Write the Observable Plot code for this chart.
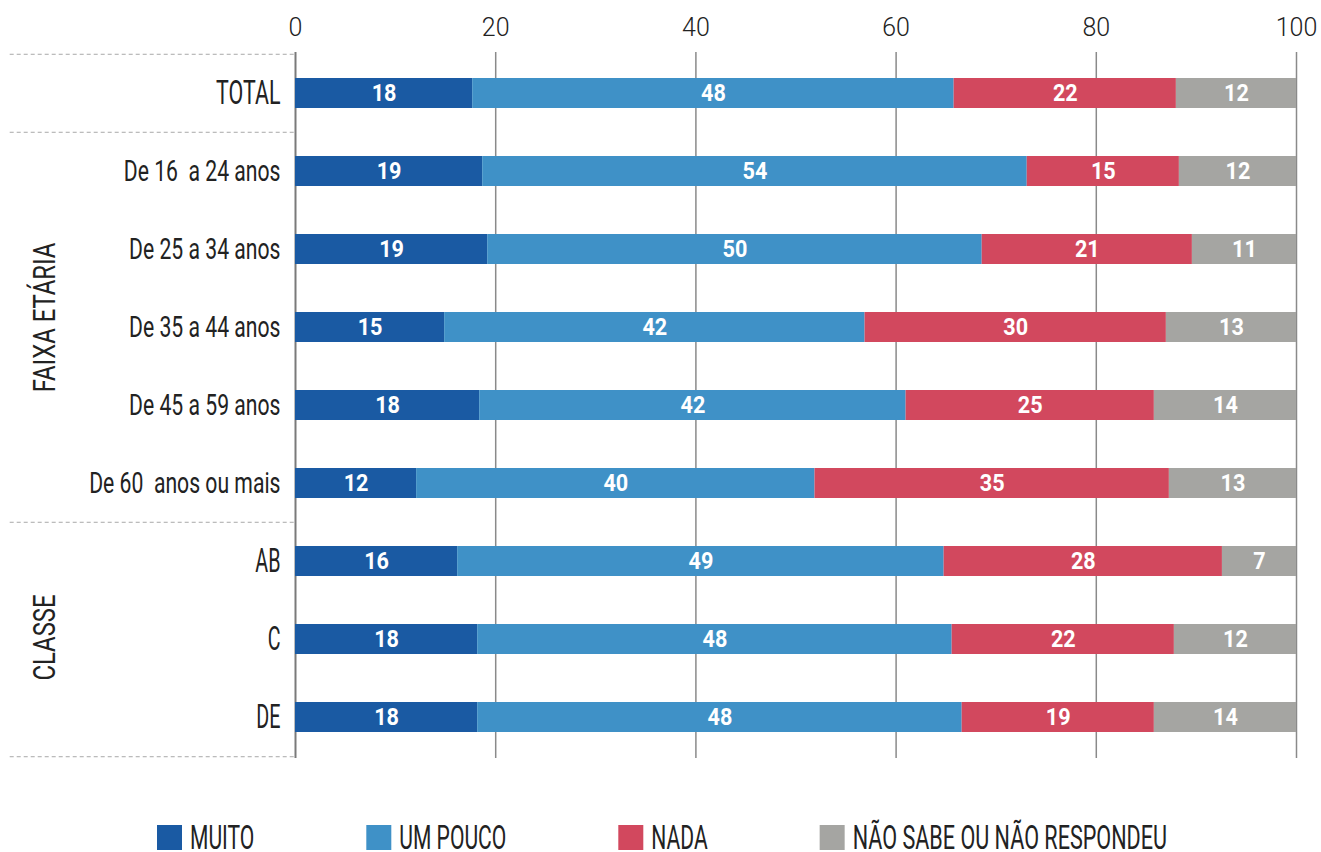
<!DOCTYPE html>
<html><head><meta charset="utf-8">
<script src="https://cdn.jsdelivr.net/npm/d3@7"></script>
<script src="https://cdn.jsdelivr.net/npm/@observablehq/plot@0.6"></script>
<style>
body{margin:0;background:#fff;font-family:Roboto,sans-serif}
svg text{white-space:pre}
#legend svg{display:block}
</style></head><body><div id="chart"></div><div id="legend"></div>
<script>
const categories = ["TOTAL","De 16  a 24 anos","De 25 a 34 anos","De 35 a 44 anos","De 45 a 59 anos","De 60  anos ou mais","AB","C","DE"];
const series = ["MUITO","UM POUCO","NADA","NÃO SABE OU NÃO RESPONDEU"];
const colors = ["#1a5aa3","#3f91c7","#d2485e","#a5a5a2"];
const muito   = [17.7,18.7,19.2,14.9,18.4,12.1,16.2,18.2,18.2];
const umPouco = [48.1,54.4,49.4,42.0,42.6,39.8,48.6,47.4,48.4];
const nada    = [22.2,15.2,21.0,30.1,24.8,35.4,27.8,22.2,19.2];
const naoSabe = [12.0,11.7,10.4,13.0,14.2,12.7,7.4,12.2,14.2];
const labelsMuito   = [18,19,19,15,18,12,16,18,18];
const labelsUmPouco = [48,54,50,42,42,40,49,48,48];
const labelsNada    = [22,15,21,30,25,35,28,22,19];
const labelsNaoSabe = [12,12,11,13,14,13,7,12,14];
const xTicks = [0,20,40,60,80,100];
const bigCategories = ["TOTAL","AB","C","DE"];
const groupAge = [{label:"FAIXA ETÁRIA", at:"De 35 a 44 anos"}];
const groupClass = [{label:"CLASSE", at:"C"}];
const separatorsAbove = ["TOTAL","De 16  a 24 anos","AB"];
const separatorsBelow = ["DE"];

const values = [muito, umPouco, nada, naoSabe];
const labels = [labelsMuito, labelsUmPouco, labelsNada, labelsNaoSabe];
const rows = categories.flatMap((c,i)=>series.map((s,j)=>({cat:c, series:s, value:values[j][i], label:String(labels[j][i])})));
const big = new Set(bigCategories);

const plotTop = 52, plotBottom = 758;
const step = (plotBottom-plotTop)/categories.length;

const plot = Plot.plot({
  width:1321, height:790, marginLeft:295, marginRight:25, marginTop:plotTop, marginBottom:790-plotBottom,
  x:{domain:[0,100], axis:null},
  y:{domain:categories, paddingInner:0.612, paddingOuter:0.306, axis:null},
  color:{domain:series, range:colors},
  style:{fontFamily:"Roboto, sans-serif", background:"#fff", color:"#222", overflow:"visible"},
  marks:[
    Plot.ruleX(xTicks.slice(1), {stroke:"#8a8a8a", strokeWidth:1.5}),
    Plot.ruleX([0], {stroke:"#7a7a7a", strokeWidth:2}),
    Plot.barX(rows, {x:"value", y:"cat", fill:"series"}),
    Plot.text(rows, Plot.stackX({x:"value", y:"cat", z:"series", text:"label", fill:"white", fontSize:24, fontWeight:"bold"})),
    Plot.text(categories, {x:0, y:d=>d, text:d=>d, textAnchor:"end", dx:-15, fontSize:d=>big.has(d)?34:29, fill:"#222"}),
    Plot.text(groupAge, {y:"at", frameAnchor:"left", textAnchor:"middle", dx:-250, dy:-10, text:"label", rotate:-90, fontSize:31, fill:"#222"}),
    Plot.text(groupClass, {y:"at", frameAnchor:"left", textAnchor:"middle", dx:-250, dy:-2, text:"label", rotate:-90, fontSize:31, fill:"#222"}),
    Plot.ruleY(separatorsAbove, {y:d=>d, x1:-28.5, x2:0, dy:-step/2, stroke:"#a8a8a8", strokeDasharray:"4,3"}),
    Plot.ruleY(separatorsBelow, {y:d=>d, x1:-28.5, x2:0, dy:step/2, stroke:"#a8a8a8", strokeDasharray:"4,3"}),
    Plot.axisX({anchor:"top", ticks:xTicks, tickSize:0, tickPadding:17, fontSize:25, fontWeight:300, label:null})
  ]
});
document.getElementById("chart").appendChild(plot);

function condense(el, f){
  const L = el.getComputedTextLength();
  if (L > 0) { el.setAttribute("textLength", (L*f).toFixed(1)); el.setAttribute("lengthAdjust","spacingAndGlyphs"); }
}
plot.querySelectorAll("text").forEach(el => {
  const fs = Math.round(parseFloat(getComputedStyle(el).fontSize));
  const t = el.textContent;
  if (fs === 24) condense(el, 0.9);
  else if (fs === 29) condense(el, 0.73);
  else if (fs === 34) condense(el, t === "TOTAL" ? 0.63 : 0.58);
  else if (fs === 31) condense(el, 0.77);
});

// legend
const leg = d3.select("#legend").append("svg").attr("width",1321).attr("height",62)
  .style("font-family","Roboto, sans-serif");
let cx = 157;
series.forEach((s,i)=>{
  leg.append("rect").attr("x",cx).attr("y",35).attr("width",25).attr("height",25).attr("fill",colors[i]);
  const t = leg.append("text").attr("x",cx+33).attr("y",59).attr("font-size",34).attr("fill","#222").text(s);
  const L = t.node().getComputedTextLength()*(i===3?0.635:0.62);
  t.attr("textLength",L.toFixed(1)).attr("lengthAdjust","spacingAndGlyphs");
  cx = cx + 33 + L + 112;
});
</script></body></html>
